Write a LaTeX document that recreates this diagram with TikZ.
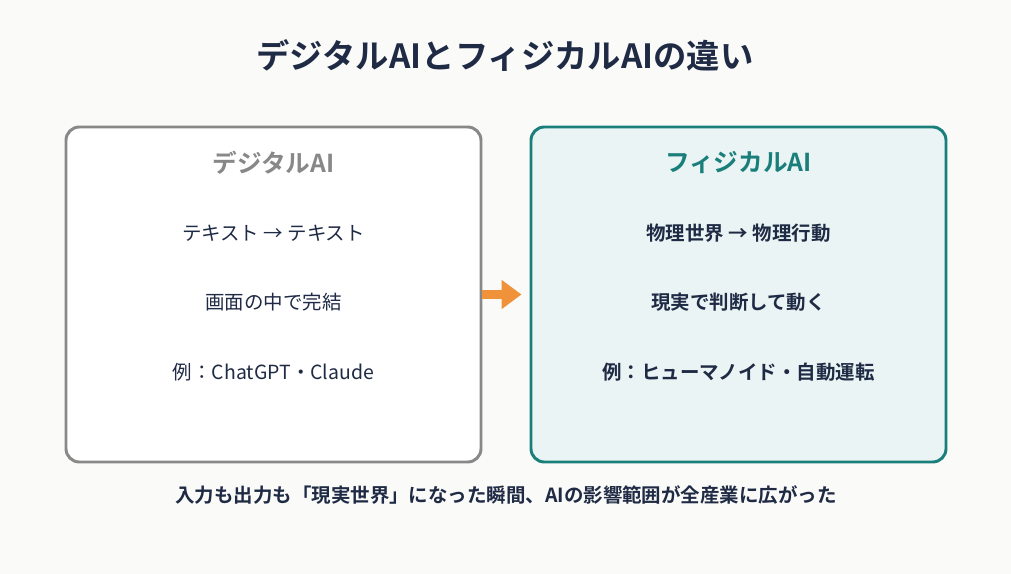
\documentclass[tikz,border=0pt]{standalone}
\usepackage{fontspec}
\setmainfont{Noto Sans CJK JP}
\newfontfamily\jpbold{Noto Sans CJK JP Bold}
\usetikzlibrary{arrows.meta}
\definecolor{bgcol}{HTML}{FAFAF8}
\definecolor{navy}{HTML}{1F2A44}
\definecolor{greycol}{HTML}{888888}
\definecolor{tealcol}{HTML}{1A7F7A}
\definecolor{tealfill}{HTML}{EAF4F4}
\definecolor{orangecol}{HTML}{F0923A}
\tikzset{
  panel/.style={rounded corners=10pt, line width=2.2pt, minimum width=311.25pt, minimum height=251.25pt},
  panelhead/.style={font=\jpbold\fontsize{18.5}{20}\selectfont},
  line/.style={text=navy, font=\fontsize{14.6}{16}\selectfont},
  boldline/.style={text=navy, font=\jpbold\fontsize{14.6}{16}\selectfont}
}

\begin{document}
\begin{tikzpicture}[x=0.75pt,y=-0.75pt]
  \fill[bgcol] (0,0) rectangle (1011,574);
  \useasboundingbox (0,0) rectangle (1011,574);
  \node (title) [text=navy, font=\jpbold\fontsize{25}{28}\selectfont] at (505,55) {デジタルAIとフィジカルAIの違い};
  % left panel
  \node (digital) [panel, draw=greycol, fill=white] at (273.5,294.5) {};
  \node (dhead) [panelhead, text=greycol] at (273.5,163) {デジタルAI};
  \node (d1) [line] at (273.5,233) {テキスト → テキスト};
  \node (d2) [line] at (273.5,302) {画面の中で完結};
  \node (d3) [line] at (273.5,372) {例：ChatGPT・Claude};
  % right panel
  \node (physical) [panel, draw=tealcol, fill=tealfill] at (738.5,294.5) {};
  \node (phead) [panelhead, text=tealcol] at (738.5,163) {フィジカルAI};
  \node (p1) [boldline] at (738.5,233) {物理世界 → 物理行動};
  \node (p2) [boldline] at (738.5,302) {現実で判断して動く};
  \node (p3) [boldline] at (738.5,372) {例：ヒューマノイド・自動運転};
  \draw[orangecol, line width=6pt, -{Triangle[length=15pt,width=21pt]}, shorten >=6pt] (digital.east) -- (physical.west);
  \node (note) [boldline, font=\jpbold\fontsize{14.6}{16}\selectfont] at (506,495) {入力も出力も「現実世界」になった瞬間、AIの影響範囲が全産業に広がった};
\end{tikzpicture}
\end{document}
